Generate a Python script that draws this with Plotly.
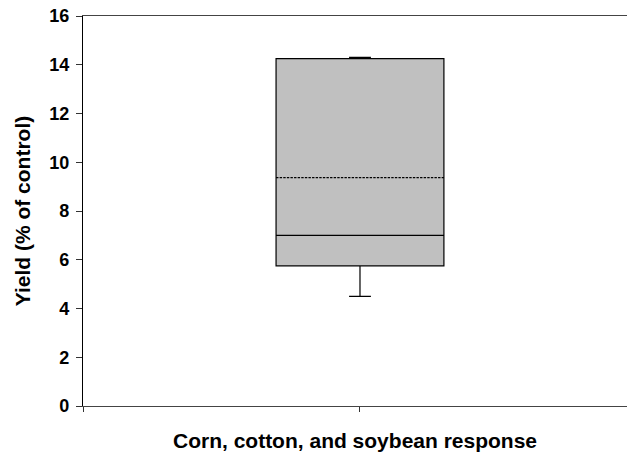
import plotly.graph_objects as go

category = ["Corn, cotton, and soybean response"]
q1 = [5.75]
median = [7.0]
q3 = [14.25]
lower_whisker = [4.5]
upper_whisker = [14.3]
mean_val = [9.37]

y_ticks = [0, 2, 4, 6, 8, 10, 12, 14, 16]

fig = go.Figure()
fig.add_trace(go.Box(
    x=[0],
    q1=q1, median=median, q3=q3,
    lowerfence=lower_whisker, upperfence=upper_whisker,
    mean=mean_val,
    boxmean=True,
    width=0.303,
    whiskerwidth=0.13,
    fillcolor="#C0C0C0",
    line=dict(color="#000000", width=1.2),
    boxpoints=False,
    hoverinfo="skip",
))

font_family = "Liberation Sans, Arial, sans-serif"
fig.update_layout(
    width=627, height=458,
    margin=dict(l=83, r=0, t=16, b=52),
    paper_bgcolor="white", plot_bgcolor="white",
    showlegend=False,
    font=dict(family=font_family, color="black"),
    xaxis=dict(
        range=[-0.5, 0.482],
        tickvals=[-0.5, 0], ticktext=["", ""],
        ticks="outside", ticklen=5, tickcolor="#333", tickwidth=1,
        showline=True, linecolor="#444", linewidth=1.2, mirror=True,
        showgrid=False, zeroline=False,
        title=dict(text=category[0], font=dict(size=21, family=font_family, weight="bold"), standoff=19),
    ),
    yaxis=dict(
        range=[0, 16],
        tickvals=y_ticks,
        ticks="outside", ticklen=6, tickcolor="#333", tickwidth=1,
        tickfont=dict(size=18, family=font_family, weight="bold"),
        ticklabelstandoff=3,
        showline=True, linecolor="#000", linewidth=1.2,
        showgrid=False, zeroline=False,
        title=dict(text="Yield (% of control)", font=dict(size=21, family=font_family, weight="bold"), standoff=12),
    ),
)

fig.write_html(
    "out.html",
    config={"displayModeBar": False},
    post_script="document.body.style.margin='0';document.body.style.overflow='hidden';",
)
